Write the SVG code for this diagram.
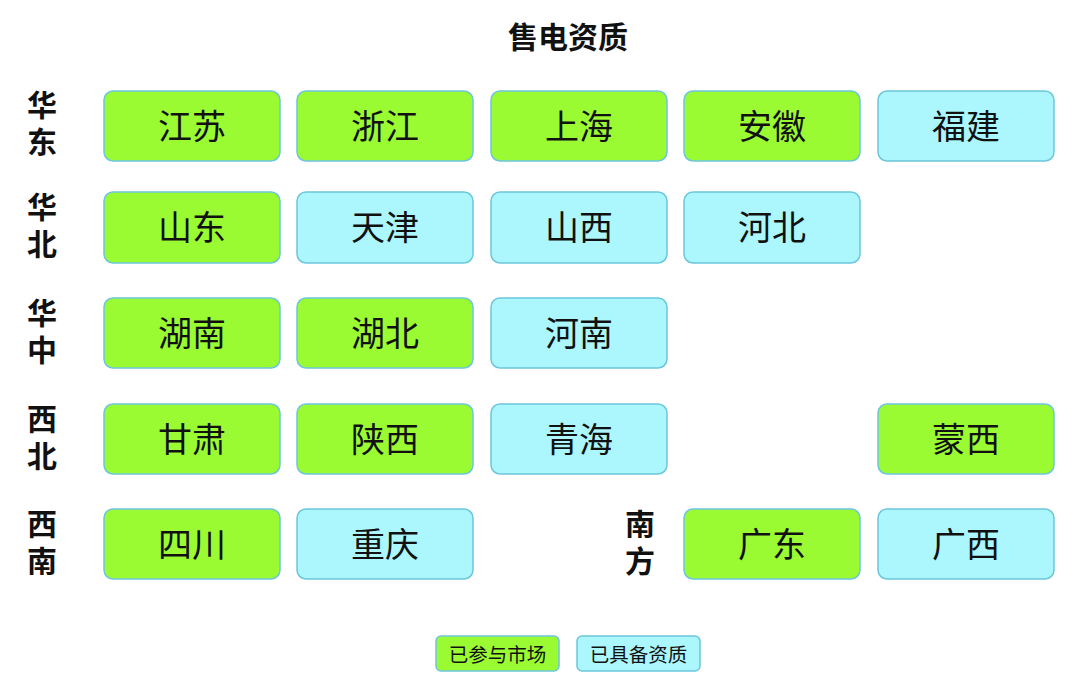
<svg xmlns="http://www.w3.org/2000/svg" width="1080" height="692" viewBox="0 0 1080 692">
<style>
.g{fill:#9bfb33;stroke:#6cc6dc;stroke-width:1.5}
.b{fill:#abf7fd;stroke:#6cc6dc;stroke-width:1.5}
.t{font-family:"Noto Sans CJK SC",sans-serif;font-size:34px;fill:#111;text-anchor:middle;dominant-baseline:central}
.h{font-family:"Noto Sans CJK SC",sans-serif;font-size:30px;font-weight:bold;fill:#111;text-anchor:middle;dominant-baseline:central}
.v{font-family:"Noto Sans CJK SC",sans-serif;font-size:30px;font-weight:bold;fill:#111;text-anchor:middle;dominant-baseline:central;writing-mode:vertical-rl;letter-spacing:7px}
.l{font-family:"Noto Sans CJK SC",sans-serif;font-size:19.5px;fill:#111;text-anchor:middle;dominant-baseline:central}
</style>
<rect width="1080" height="692" fill="#fff"/>
<text class="h" x="568" y="35" font-size="31">售电资质</text>
<g id="labels">
<text class="v" x="42" y="127">华东</text>
<text class="v" x="42" y="229">华北</text>
<text class="v" x="42" y="335">华中</text>
<text class="v" x="42" y="441">西北</text>
<text class="v" x="42" y="546">西南</text>
<text class="v" x="640" y="546">南方</text>
</g>
<g id="r1">
<g id="n-jiangsu"><rect class="g" x="104" y="91" width="176" height="70" rx="9"/><text class="t" x="192" y="124">江苏</text></g>
<g id="n-zhejiang"><rect class="g" x="297" y="91" width="176" height="70" rx="9"/><text class="t" x="385" y="124">浙江</text></g>
<g id="n-shanghai"><rect class="g" x="491" y="91" width="176" height="70" rx="9"/><text class="t" x="579" y="124">上海</text></g>
<g id="n-anhui"><rect class="g" x="684" y="91" width="176" height="70" rx="9"/><text class="t" x="772" y="124">安徽</text></g>
<g id="n-fujian"><rect class="b" x="878" y="91" width="176" height="70" rx="9"/><text class="t" x="966" y="124">福建</text></g>
</g>
<g id="r2">
<g id="n-shandong"><rect class="g" x="104" y="192" width="176" height="71" rx="9"/><text class="t" x="192" y="225">山东</text></g>
<g id="n-tianjin"><rect class="b" x="297" y="192" width="176" height="71" rx="9"/><text class="t" x="385" y="225">天津</text></g>
<g id="n-shanxi"><rect class="b" x="491" y="192" width="176" height="71" rx="9"/><text class="t" x="579" y="225">山西</text></g>
<g id="n-hebei"><rect class="b" x="684" y="192" width="176" height="71" rx="9"/><text class="t" x="772" y="225">河北</text></g>
</g>
<g id="r3">
<g id="n-hunan"><rect class="g" x="104" y="298" width="176" height="70" rx="9"/><text class="t" x="192" y="331">湖南</text></g>
<g id="n-hubei"><rect class="g" x="297" y="298" width="176" height="70" rx="9"/><text class="t" x="385" y="331">湖北</text></g>
<g id="n-henan"><rect class="b" x="491" y="298" width="176" height="70" rx="9"/><text class="t" x="579" y="331">河南</text></g>
</g>
<g id="r4">
<g id="n-gansu"><rect class="g" x="104" y="404" width="176" height="70" rx="9"/><text class="t" x="192" y="437">甘肃</text></g>
<g id="n-shaanxi"><rect class="g" x="297" y="404" width="176" height="70" rx="9"/><text class="t" x="385" y="437">陕西</text></g>
<g id="n-qinghai"><rect class="b" x="491" y="404" width="176" height="70" rx="9"/><text class="t" x="579" y="437">青海</text></g>
<g id="n-mengxi"><rect class="g" x="878" y="404" width="176" height="70" rx="9"/><text class="t" x="966" y="437">蒙西</text></g>
</g>
<g id="r5">
<g id="n-sichuan"><rect class="g" x="104" y="509" width="176" height="70" rx="9"/><text class="t" x="192" y="542">四川</text></g>
<g id="n-chongqing"><rect class="b" x="297" y="509" width="176" height="70" rx="9"/><text class="t" x="385" y="542">重庆</text></g>
<g id="n-guangdong"><rect class="g" x="684" y="509" width="176" height="70" rx="9"/><text class="t" x="772" y="542">广东</text></g>
<g id="n-guangxi"><rect class="b" x="878" y="509" width="176" height="70" rx="9"/><text class="t" x="966" y="542">广西</text></g>
</g>
<g id="connectors"></g>
<g id="legend">
<g id="lg1"><rect class="g" x="436" y="636" width="123" height="35" rx="5"/><text class="l" x="497.5" y="653">已参与市场</text></g>
<g id="lg2"><rect class="b" x="577" y="636" width="123" height="35" rx="5"/><text class="l" x="638.5" y="653">已具备资质</text></g>
</g>
</svg>
